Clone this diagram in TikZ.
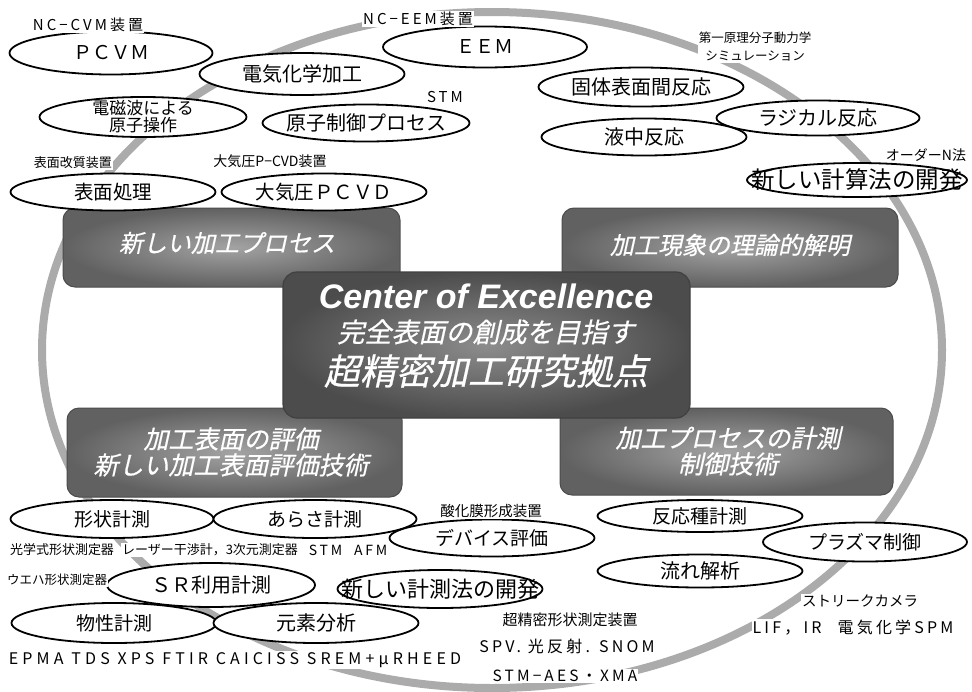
\documentclass[tikz,border=0pt]{standalone}
\usepackage{fontspec}
\setmainfont{Noto Sans CJK JP}
\newfontfamily\jpw[LetterSpace=20]{Noto Sans CJK JP}
\newfontfamily\jpww[LetterSpace=26]{Noto Sans CJK JP}
\newfontfamily\jpsl[FakeSlant=0.22,FakeBold=0.6]{Noto Sans CJK JP}
\newfontfamily\lsans{Liberation Sans}
\usetikzlibrary{shapes.geometric}
\newcommand\fsz[1]{\fontsize{#1}{#1}\selectfont}
\newcommand\ov[7]{%
  \node[oval, minimum width=#4pt, minimum height=#5pt] (e#1) at (#2,#3) {};
  \node[font=\fsz{#6}, align=center, inner sep=0pt] (t#1) at (e#1) {#7};}
\newcommand\lab[5]{\node[lbl, font=#4] (#1) at (#2,#3) {#5};}
\begin{document}
\begin{tikzpicture}[x=1pt,y=-1pt,
  oval/.style={ellipse, draw=black, line width=1.8pt, fill=white, inner sep=0pt},
  lbl/.style={fill=white, inner sep=1pt, align=center, text=black},
  cbox/.style={rounded corners=12pt, draw=black!70, line width=1pt, inner color=black!36, outer color=black!62},
  mbox/.style={rounded corners=14pt, draw=black!75, line width=1.2pt, inner color=black!45, outer color=black!70},
  btxt/.style={text=white, align=center, inner sep=0pt},
  ring/.style={line width=8pt, draw=black!33}]
\useasboundingbox (0,0) rectangle (972,691);
\fill[white] (0,0) rectangle (972,691);
% ring
\draw[ring] (492,350) ellipse [x radius=450, y radius=338];
% boxes
\node[cbox, minimum width=337pt, minimum height=79pt] (boxTL) at (231.5,247.5) {};
\node[cbox, minimum width=336pt, minimum height=79pt] (boxTR) at (730,247.5) {};
\node[cbox, minimum width=335pt, minimum height=89pt] (boxBL) at (234.5,452.5) {};
\node[cbox, minimum width=333pt, minimum height=87pt] (boxBR) at (726.5,451.5) {};
\node[mbox, minimum width=407pt, minimum height=146pt] (boxC) at (486.5,345) {};
\node[btxt, font=\jpsl\fsz{24}] (tTL) at (227,243) {新しい加工プロセス};
\node[btxt, font=\jpsl\fsz{24}] (tTR) at (730,245) {加工現象の理論的解明};
\node[btxt, font=\jpsl\fontsize{25}{26}\selectfont] (tBL) at (231,452) {加工表面の評価\\新しい加工表面評価技術};
\node[btxt, font=\jpsl\fontsize{25}{26}\selectfont] (tBR) at (728,451) {加工プロセスの計測\\制御技術};
\node[btxt, font=\lsans\bfseries\itshape\fsz{34}] (tC1) at (486,296) {Center of Excellence};
\node[btxt, font=\jpsl\fsz{27}] (tC2) at (486,332) {完全表面の創成を目指す};
\node[btxt, font=\jpsl\fsz{36}] (tC3) at (486,371) {超精密加工研究拠点};
% ellipses
\ov{pcvm}{111}{53}{203}{43}{19}{ＰＣＶＭ}
\ov{denki}{302}{74}{205}{42}{20}{電気化学加工}
\ov{eem}{485}{47}{204}{41}{19}{ＥＥＭ}
\ov{denji}{143}{117}{207}{40}{17}{電磁波による\\原子操作}
\ov{genshi}{366}{123}{207}{37}{20}{原子制御プロセス}
\ov{hyomen}{113}{192}{205}{37}{19.5}{表面処理}
\ov{taiki}{324}{192}{205}{37}{19.5}{大気圧ＰＣＶＤ}
\ov{kotai}{641}{87}{205}{39}{20}{固体表面間反応}
\ov{radical}{818}{118}{203}{35}{20}{ラジカル反応}
\ov{ekichu}{644}{137}{205}{37}{20}{液中反応}
\ov{keisan}{857}{180}{220}{34}{23.5}{新しい計算法の開発}
\ov{keijo}{112}{519}{203}{38}{19}{形状計測}
\ov{arasa}{315}{519}{203}{38}{19}{あらさ計測}
\ov{device}{492}{538}{205}{37}{19}{デバイス評価}
\ov{sr}{211}{585}{208}{44}{20}{ＳＲ利用計測}
\ov{keisoku}{440}{589}{205}{38}{22}{新しい計測法の開発}
\ov{bussei}{114}{623}{205}{40}{19}{物性計測}
\ov{genso}{316}{623}{205}{40}{20}{元素分析}
\ov{hannou}{700}{516}{205}{32}{19}{反応種計測}
\ov{plasma}{865}{542}{204}{39}{19}{プラズマ制御}
\ov{nagare}{700}{571}{205}{33}{20}{流れ解析}
% labels
\lab{lCVM}{88}{25}{\jpw\fsz{15}}{NC−CVM装置}
\lab{lEEM}{418}{19}{\jpw\fsz{15}}{NC−EEM装置}
\lab{lSTM}{445}{97}{\jpw\fsz{15}}{STM}
\lab{lKaishitsu}{73}{163}{\fsz{13}}{表面改質装置}
\lab{lPCVD}{270}{161}{\fsz{14}}{大気圧P−CVD装置}
\lab{lDaiichi}{755}{47}{\fontsize{12.5}{18}\selectfont}{第一原理分子動力学\\シミュレーション}
\lab{lOrderN}{926}{155}{\fsz{14}}{オーダーN法}
\lab{lKogaku}{62}{550}{\fsz{13}}{光学式形状測定器}
\lab{lLaser}{210}{550}{\fsz{13}}{レーザー干渉計，3次元測定器}
\lab{lAFM}{348}{550}{\jpw\fsz{14}}{STM\ \ AFM}
\lab{lSanka}{491}{511}{\fsz{14.5}}{酸化膜形成装置}
\lab{lWafer}{57}{580}{\fsz{12.5}}{ウエハ形状測定器}
\lab{lEPMA}{235}{660}{\jpww\fsz{16}}{EPMA TDS XPS FTIR CAICISS SREM+μRHEED}
\lab{lChoseimitsu}{570}{620}{\fsz{15}}{超精密形状測定装置}
\lab{lSPV}{567}{646}{\jpw\fsz{16}}{SPV. 光反射. SNOM}
\lab{lAES}{565}{676}{\jpw\fsz{15.5}}{STM−AES・XMA}
\lab{lStreak}{860}{601}{\fsz{14.5}}{ストリークカメラ}
\lab{lLIF}{853}{628}{\jpw\fsz{16}}{LIF，IR\quad 電気化学SPM}
\end{tikzpicture}
\end{document}
